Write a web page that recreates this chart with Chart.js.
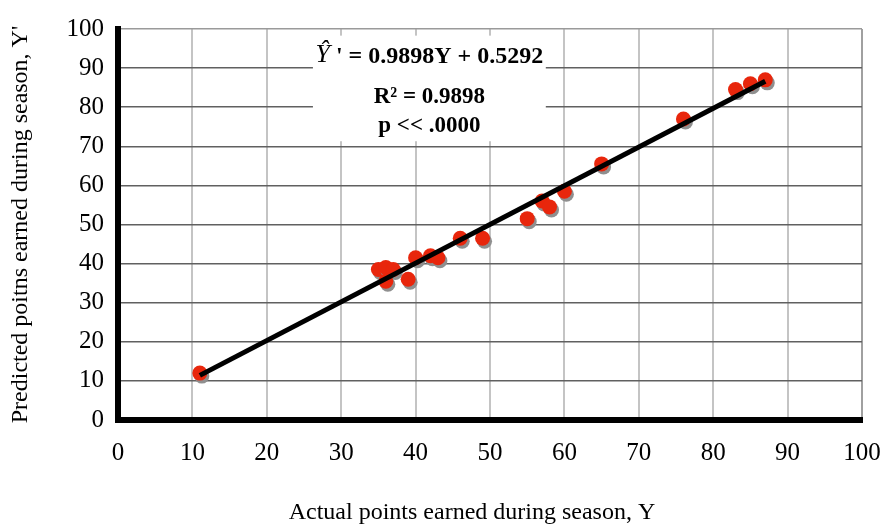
<!DOCTYPE html>
<html>
<head>
<meta charset="utf-8">
<script src="https://cdn.jsdelivr.net/npm/chart.js@4.4.0/dist/chart.umd.min.js"></script>
<style>
    html, body { margin: 0; padding: 0; background: #fff; }
</style>
</head>
<body>
<canvas id="grafico" width="884" height="525"></canvas>
<script>
// actual points (Y) vs predicted points (Y') per team
const actualPoints    = [11, 35, 36, 37, 36, 39, 40, 42, 43, 46, 49, 55, 57, 58, 60, 65, 76, 83, 85, 87];
const predictedPoints = [12, 38.5, 39, 38.5, 35.5, 36, 41.5, 42, 41.5, 46.5, 46.5, 51.5, 56, 54.5, 58.5, 65.5, 77, 84.5, 86, 87];

// fitted regression line
const fitSlope = 0.9898;
const fitIntercept = 0.5292;
const fitRange = [11, 87];

const axisTicks = [0, 10, 20, 30, 40, 50, 60, 70, 80, 90, 100];

const equationLines = [" ' = 0.9898Y + 0.5292", 'R² = 0.9898', 'p << .0000'];

document.addEventListener('DOMContentLoaded', () => {
    const ctx = document.getElementById('grafico').getContext('2d');
    const serif = "'Liberation Serif', 'Times New Roman', serif";

    const pointShadow = {
        id: 'pointShadow',
        beforeDatasetDraw(chart, args) {
            if (args.index !== 0) return;
            const c = chart.ctx;
            c.save();
            c.shadowColor = '#8f8f8f';
            c.shadowOffsetX = 2;
            c.shadowOffsetY = 3;
            c.shadowBlur = 0;
        },
        afterDatasetDraw(chart, args) {
            if (args.index !== 0) return;
            chart.ctx.restore();
        }
    };

    const equationBox = {
        id: 'equationBox',
        beforeDatasetsDraw(chart) {
            const c = chart.ctx;
            const x = chart.scales.x, y = chart.scales.y;
            const left = x.getPixelForValue(26.2), right = x.getPixelForValue(57.5);
            const top = y.getPixelForValue(98.3), bottom = y.getPixelForValue(71.3);
            c.save();
            c.fillStyle = '#fff';
            c.fillRect(left, top, right - left, bottom - top);
            const cx = (left + right) / 2;
            c.fillStyle = '#000';
            c.textBaseline = 'middle';

            // first line: italic Y-hat + bold rest
            c.font = 'italic 26px ' + serif;
            const hat = 'Ŷ';
            const wHat = c.measureText(hat).width;
            c.font = 'bold 24px ' + serif;
            const wRest = c.measureText(equationLines[0]).width;
            let sx = cx - (wHat + wRest) / 2;
            c.textAlign = 'left';
            c.font = 'italic 26px ' + serif;
            c.fillText(hat, sx, top + 20);
            c.font = 'bold 24px ' + serif;
            c.fillText(equationLines[0], sx + wHat, top + 21);

            c.textAlign = 'center';
            c.font = 'bold 23px ' + serif;
            c.fillText(equationLines[1], cx, top + 61);
            c.fillText(equationLines[2], cx, top + 90);
            c.restore();
        }
    };

    const fitLine = fitRange.map(v => ({ x: v, y: fitSlope * v + fitIntercept }));

    new Chart(ctx, {
        type: 'scatter',
        data: {
            datasets: [{
                data: actualPoints.map((v, i) => ({ x: v, y: predictedPoints[i] })),
                backgroundColor: '#e8260c',
                borderColor: '#e8260c',
                borderWidth: 0,
                pointRadius: 7.5,
                order: 2
            }, {
                type: 'line',
                data: fitLine,
                borderColor: '#000',
                borderWidth: 5,
                pointRadius: 0,
                fill: false,
                order: 1
            }]
        },
        options: {
            responsive: false,
            animation: false,
            layout: { padding: { top: 29, right: 22, left: 0, bottom: 0 } },
            plugins: {
                legend: { display: false },
                tooltip: { enabled: false }
            },
            scales: {
                x: {
                    type: 'linear',
                    min: 0,
                    max: 100,
                    afterFit: (scale) => { scale.height = 105; },
                    afterBuildTicks: (scale) => { scale.ticks = axisTicks.map(v => ({ value: v })); },
                    ticks: { color: '#000', padding: 3, font: { family: serif, size: 25 } },
                    grid: {
                        color: (c) => c.tick && c.tick.value === 100 ? '#a0a0a0' : '#c4c4c4',
                        lineWidth: 2,
                        drawTicks: true,
                        tickLength: 15,
                        tickColor: 'rgba(0,0,0,0)'
                    },
                    border: { color: '#000', width: 6 },
                    title: {
                        display: true,
                        text: 'Actual points earned during season, Y\u00A0\u00A0\u00A0\u00A0\u00A0\u00A0',
                        color: '#000',
                        font: { family: serif, size: 24 },
                        padding: { top: 0, bottom: -2 }
                    }
                },
                y: {
                    type: 'linear',
                    min: 0,
                    max: 100,
                    afterFit: (scale) => { scale.width = 118; },
                    afterBuildTicks: (scale) => { scale.ticks = axisTicks.map(v => ({ value: v })); },
                    ticks: { color: '#000', padding: 14, font: { family: serif, size: 25 } },
                    grid: {
                        color: (c) => c.tick && c.tick.value === 100 ? '#9a9a9a' : '#606060',
                        lineWidth: 1.5,
                        drawTicks: false
                    },
                    border: { color: '#000', width: 6 },
                    title: {
                        display: true,
                        text: "Predicted poitns earned during season, Y'",
                        color: '#000',
                        font: { family: serif, size: 24 },
                        padding: { top: 6, bottom: 0 }
                    }
                }
            }
        },
        plugins: [pointShadow, equationBox]
    });
});
</script>
</body>
</html>
